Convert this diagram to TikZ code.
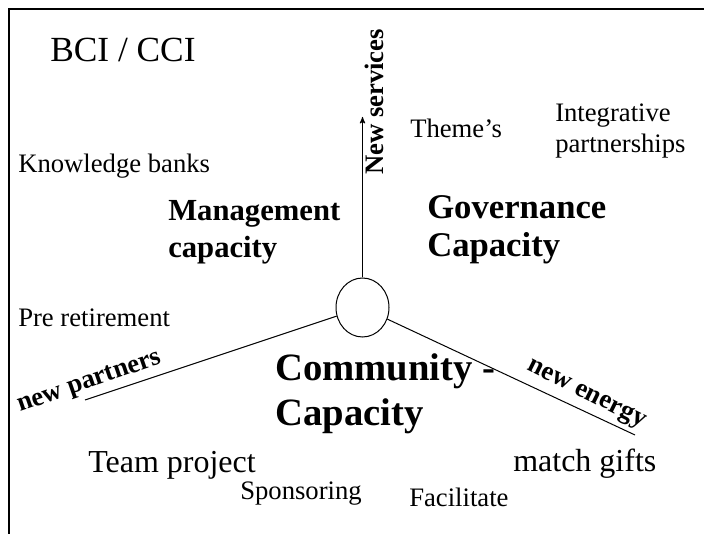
\documentclass[tikz,border=0pt]{standalone}
\usepackage{fontspec}
\setmainfont{Liberation Serif}
\usetikzlibrary{arrows,shapes.geometric}
\tikzset{
  >=stealth',
  word/.style={
    inner sep=0pt,
    anchor=base west,
    font=\fontsize{20}{24}\selectfont
  },
  bigword/.style={word, font=\fontsize{24}{28}\selectfont},
  field/.style={
    inner sep=0pt,
    anchor=base west,
    align=left,
    font=\bfseries
  },
  axis/.style={inner sep=0pt, font=\bfseries\fontsize{20}{24}\selectfont},
  spoke/.style={draw, line width=0.75pt},
}

\begin{document}
\begin{tikzpicture}
      [x=0.75pt, y=-0.75pt]
      \useasboundingbox (0,0) rectangle (704,534);
      \draw[line width=1.6pt] (9,534) |- (704,9);
      \node[word, font=\fontsize{26.5}{30}\selectfont] (bci) at (50,62) {BCI / CCI};
      % hub and spokes
      \node[draw, ellipse, line width=0.75pt, minimum width=39.75pt,
        minimum height=44.25pt] (hub) at (362.5,307.5) {};
      \coordinate (ns) at (362.5,117);
      \coordinate (np) at (85,400);
      \coordinate (ne) at (635,435);
      \draw[spoke, ->] (hub) -- (ns);
      \draw[spoke] (hub) -- (np);
      \draw[spoke] (hub) -- (ne);
      \node[axis, rotate=90, anchor=base] (nsl) at (383,102) {New services};
      \node[axis, rotate=19] (npl) at (90,383) {new partners};
      \node[axis, rotate=-26.4] (nel) at (586,395) {new energy};
      % capacities (base is the last line)
      \node[field, font=\bfseries\fontsize{23}{27.75}\selectfont] (mc) at (168,258)
        {Management\\capacity};
      \node[field, font=\bfseries\fontsize{26}{28.5}\selectfont] (gc) at (427,257)
        {Governance\\Capacity};
      \node[field, font=\bfseries\fontsize{29}{33.75}\selectfont] (cc) at (275,426)
        {Community -\\Capacity};
      % items
      \node[word] (kb) at (18,173) {Knowledge banks};
      \node[word] (pr) at (18,327) {Pre retirement};
      \node[word] (th) at (410,138) {Theme’s};
      \node[word, align=left, font=\fontsize{20}{23.25}\selectfont] (ip) at (555,153)
        {Integrative\\partnerships};
      \node[bigword] (tp) at (88,473) {Team project};
      \node[word] (sp) at (240,500) {Sponsoring};
      \node[word] (fa) at (409,507) {Facilitate};
      \node[bigword] (mg) at (513,472) {match gifts};
\end{tikzpicture}
\end{document}
